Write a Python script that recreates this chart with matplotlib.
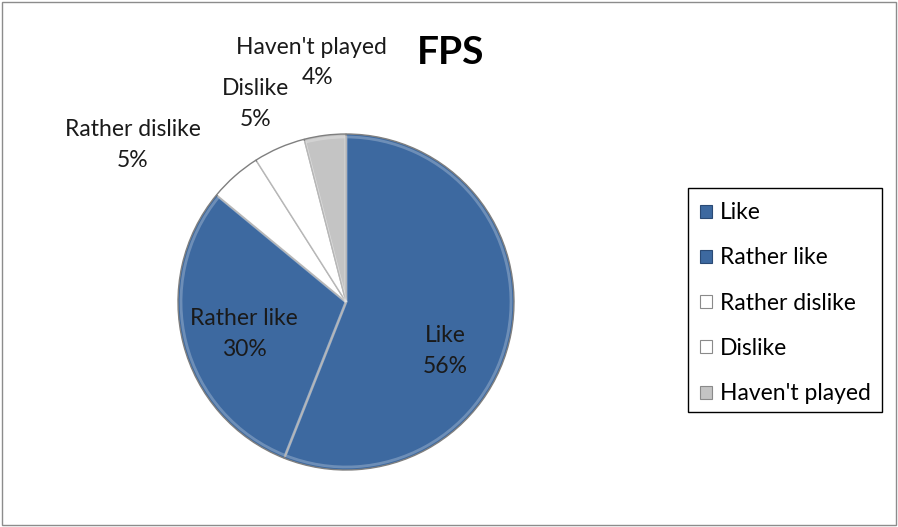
import matplotlib
matplotlib.use("Agg")
import matplotlib.pyplot as plt
from matplotlib.patches import Patch, Rectangle

categories = ["Like", "Rather like", "Rather dislike", "Dislike", "Haven't played"]
shares = [56, 30, 5, 5, 4]
colors = ["#3D69A0", "#3D69A0", "#FFFFFF", "#FFFFFF", "#C4C4C4"]

plt.rcParams["font.family"] = ["Lato", "DejaVu Sans"]

W, H = 898, 527
fig = plt.figure(figsize=(W / 100, H / 100), dpi=100)
ax = fig.add_axes([0, 0, 1, 1])

cx, cy, r = 346, H - 302, 168
wedges, _ = ax.pie(
    shares, colors=colors, startangle=90, counterclock=False,
    center=(cx, cy), radius=r, frame=True,
    wedgeprops=dict(edgecolor="#7F7F7F", linewidth=1.0),
)

# soft rim shading to give the slices a bevelled look
ax.pie(
    shares, colors=["none"] * len(shares), startangle=90, counterclock=False,
    center=(cx, cy), radius=r - 3, frame=True,
    wedgeprops=dict(edgecolor=(1, 1, 1, 0.25), linewidth=2.0, fill=False),
)
ax.set_xlim(0, W)
ax.set_ylim(0, H)
ax.set_aspect("equal")
ax.axis("off")

fs = 16.5
txt = dict(ha="center", va="center", fontsize=fs, color="#1a1a1a", linespacing=1.6)
ax.text(445, H - 351, f"{categories[0]}\n{shares[0]}%", **txt)
ax.text(244, H - 334, f"{categories[1]}\n{shares[1]}%", **txt)
ax.text(133, H - 145, f"{categories[2]}\n{shares[2]}%", **txt)
ax.text(256, H - 104, f"{categories[3]}\n{shares[3]}%", **txt)
ax.text(311, H - 47, categories[4], **txt)
ax.text(318, H - 77, f"{shares[4]}%", **txt)

ax.text(451, H - 52, "FPS", ha="center", va="center", fontsize=28,
        fontweight="bold", color="black")

handles = [Patch(facecolor=c, edgecolor="#8a8a8a", linewidth=0.8) for c in colors]
handles[0].set_edgecolor("#2a4a75")
handles[1].set_edgecolor("#2a4a75")
leg = fig.legend(
    handles, categories, loc="upper left",
    bbox_to_anchor=(686 / W, 1 - 188 / H),
    frameon=False, fontsize=fs,
    handlelength=0.5, handleheight=0.5, handletextpad=0.35,
    labelspacing=1.06, borderpad=0.62, borderaxespad=0,
)

# legend box
fig.patches.append(Rectangle((688 / W, 1 - 412 / H), (882 - 688) / W, (412 - 188) / H,
                             transform=fig.transFigure, fill=False,
                             edgecolor="black", linewidth=1.0))

fig.patches.append(Rectangle((2 / W, 2 / H), 1 - 4 / W, 1 - 4 / H,
                             transform=fig.transFigure, fill=False,
                             edgecolor="#8C8C8C", linewidth=1.0))

fig.savefig("out.png", dpi=100)
